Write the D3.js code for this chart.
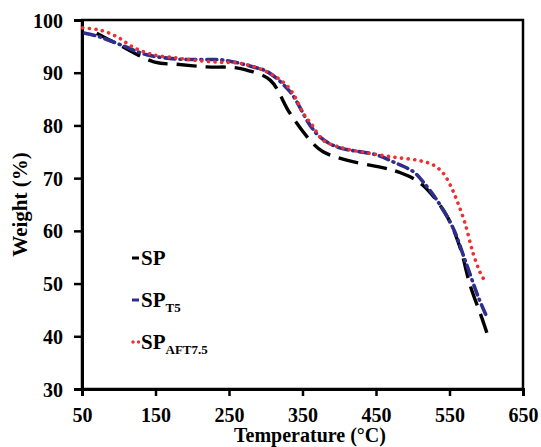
<!DOCTYPE html>
<html lang="en">
<head>
    <meta charset="UTF-8">
    <title>TGA curves</title>
    <script src="https://d3js.org/d3.v7.min.js"></script>
    <style>
        body { margin: 0; background: #fff; }
        text { font-family: "Liberation Serif", "Times New Roman", serif; font-weight: bold; fill: #000; }
    </style>
</head>
<body>
    <div id="chart"></div>
    <script>
        // Data
        const xTicks = [50, 150, 250, 350, 450, 550, 650];
        const yTicks = [30, 40, 50, 60, 70, 80, 90, 100];

        const spTemp = [70, 100, 149, 179, 220, 255, 274, 306, 333, 364, 378, 410, 462, 480, 510, 544, 564, 578, 594, 601];
        const spWeight = [97.5, 95.3, 92.0, 91.6, 91.1, 91.0, 90.5, 88.6, 82.3, 76.6, 75.0, 73.4, 71.9, 71.2, 69.1, 63.4, 57.0, 49.7, 43.5, 40.6];

        const spT5Temp = [54, 74, 106, 138, 179, 210, 242, 283, 302, 333, 360, 374, 397, 451, 473, 501, 514, 533, 555, 571, 589, 601];
        const spT5Weight = [97.5, 96.8, 95.1, 93.4, 92.6, 92.5, 92.4, 91.1, 90.2, 86.4, 80.1, 77.8, 75.9, 74.4, 73.1, 71.2, 69.3, 65.8, 60.5, 54.5, 47.5, 43.6];

        const spAftTemp = [51, 74, 98, 119, 147, 179, 201, 234, 265, 296, 323, 337, 351, 363, 378, 405, 438, 473, 506, 528, 541, 551, 560, 571, 582, 592, 599];
        const spAftWeight = [98.5, 98.1, 96.8, 94.9, 93.4, 92.8, 92.4, 92.0, 91.8, 90.5, 88.3, 86.1, 82.3, 80.1, 77.2, 75.7, 74.8, 74.0, 73.4, 72.5, 71.0, 68.7, 65.8, 61.5, 55.8, 52.0, 50.3];

        const width = 541, height = 447;
        const margin = { left: 82, right: 18, top: 20, bottom: 58 };

        const svg = d3.select("#chart").append("svg")
            .attr("width", width)
            .attr("height", height);

        const x = d3.scaleLinear().domain([50, 650]).range([margin.left, width - margin.right]);
        const y = d3.scaleLinear().domain([30, 100]).range([height - margin.bottom, margin.top]);

        // frame (top and right)
        svg.append("rect")
            .attr("x", x(50)).attr("y", y(100))
            .attr("width", x(650) - x(50)).attr("height", y(30) - y(100))
            .attr("fill", "none").attr("stroke", "#000").attr("stroke-width", 2.5);

        const xAxis = svg.append("g")
            .attr("transform", `translate(0,${y(30)})`)
            .call(d3.axisBottom(x).tickValues(xTicks).tickSize(7).tickFormat(d3.format("d")));
        const yAxis = svg.append("g")
            .attr("transform", `translate(${x(50)},0)`)
            .call(d3.axisLeft(y).tickValues(yTicks).tickSize(8).tickPadding(11).tickFormat(d3.format("d")));

        [xAxis, yAxis].forEach(g => {
            g.select(".domain").attr("stroke-width", 3);
            g.selectAll(".tick line").attr("stroke-width", 2.5);
            g.selectAll("text").style("font-size", "20px").attr("fill", "#000");
        });
        xAxis.selectAll("text").attr("y", 33).attr("dy", 0);
        yAxis.selectAll("text").attr("dy", "0.35em");

        // axis titles
        svg.append("text")
            .attr("x", 310)
            .attr("y", 442)
            .attr("text-anchor", "middle")
            .style("font-size", "20px")
            .text("Temperature (°C)");

        svg.append("text")
            .attr("transform", `translate(27,${(y(30) + y(100)) / 2}) rotate(-90)`)
            .attr("text-anchor", "middle")
            .style("font-size", "21px")
            .text("Weight (%)");

        const line = d3.line()
            .x(d => x(d[0]))
            .y(d => y(d[1]))
            .curve(d3.curveCatmullRom);

        const series = [
            { name: "SP", sub: "", temp: spTemp, weight: spWeight, color: "#000000", dash: "20,9", cap: "butt" },
            { name: "SP", sub: "T5", temp: spT5Temp, weight: spT5Weight, color: "#2e2e8c", dash: "10,5,1,5", cap: "round" },
            { name: "SP", sub: "AFT7.5", temp: spAftTemp, weight: spAftWeight, color: "#ee3030", dash: "0.1,6.5", cap: "round" }
        ];

        series.forEach(s => {
            svg.append("path")
                .datum(s.temp.map((t, i) => [t, s.weight[i]]))
                .attr("d", line)
                .attr("fill", "none")
                .attr("stroke", s.color)
                .attr("stroke-width", s.cap === "butt" ? 3.4 : 3.6)
                .attr("stroke-dasharray", s.dash)
                .attr("stroke-linecap", s.cap);
        });

        // legend
        const legend = svg.append("g").attr("transform", "translate(132,258)");
        series.forEach((s, i) => {
            const g = legend.append("g").attr("transform", `translate(0,${i * 42})`);
            if (i === 2) {
                g.append("circle").attr("cx", 1).attr("cy", 0).attr("r", 1.7).attr("fill", s.color);
                g.append("circle").attr("cx", 6.5).attr("cy", 0).attr("r", 1.7).attr("fill", s.color);
            } else {
                g.append("line").attr("x1", 0).attr("x2", 7).attr("y1", 0).attr("y2", 0)
                    .attr("stroke", s.color).attr("stroke-width", 3);
            }
            const t = g.append("text").attr("x", 9).attr("y", 7).style("font-size", "21px");
            t.append("tspan").text(s.name);
            if (s.sub) t.append("tspan").attr("dy", 5).style("font-size", "13px").text(s.sub);
        });
    </script>
</body>
</html>
